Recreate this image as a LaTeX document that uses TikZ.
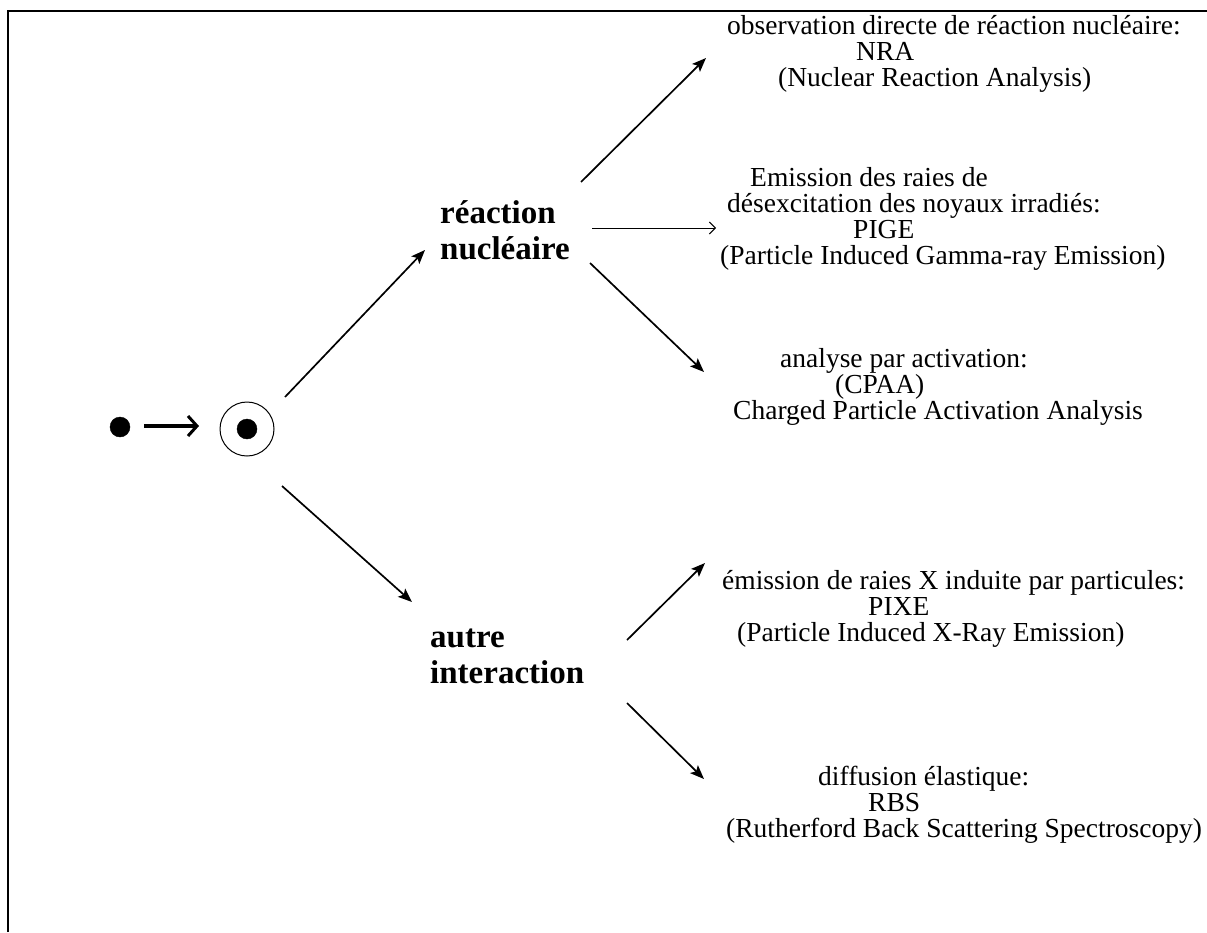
\documentclass[tikz,border=0pt]{standalone}
\usepackage{fontspec}
\setmainfont{Liberation Serif}
\usetikzlibrary{arrows.meta}
\usetikzlibrary{positioning}

\begin{document}
\begin{tikzpicture}
	[
	x=1pt, y=-1pt,
  > = {Stealth[length=14pt,width=11pt,inset=3pt]},
  dot/.style = {draw,fill,circle,inner sep=0pt,minimum size=20pt},
  branch/.style = {font=\fontsize{33}{36}\selectfont\bfseries, align=left, inner sep=0pt},
  txt/.style = {font=\fontsize{27.5}{26}\selectfont, anchor=base west, inner sep=0pt},
  arr/.style = {->, line width=1.7pt}
  ]
	\useasboundingbox (0,0) rectangle (1207,932);
	\draw[line width=1.2pt] (8,932) |- (1207,11);

	% projectile and target
	\node[dot] (proj) at (120,427) {};
	\node[draw,circle,line width=1pt,minimum size=54pt,inner sep=0pt] (targ) at (247,429) {};
	\node[dot] (noyau) at (targ) {};
	\coordinate (p1) at (144,426);
	\coordinate (p2) at (199,426);
	\draw[line width=3.2pt, -{Straight Barb[length=9pt,width=20pt,line width=3pt]}] (p1) to (p2);

	% first level
	\node[branch, anchor=west] (reac) at (440,230) {réaction\\nucléaire};
	\node[branch, anchor=west] (autre) at (430,656) {autre\\interaction};
	\coordinate (a1) at (285,397);
	\coordinate (a2) at (425,250);
	\coordinate (b1) at (282,486);
	\coordinate (b2) at (412,602);
	\draw[arr] (a1) to (a2);
	\draw[arr] (b1) to (b2);

	% arrows to the methods
	\coordinate (r1) at (581,182);
	\coordinate (r1e) at (706,58);
	\coordinate (r2) at (592,228);
	\coordinate (r2e) at (716,228);
	\coordinate (r3) at (590,263);
	\coordinate (r3e) at (704,372);
	\coordinate (t1) at (627,640);
	\coordinate (t1e) at (705,563);
	\coordinate (t2) at (627,703);
	\coordinate (t2e) at (704,779);
	\draw[arr] (r1) to (r1e);
	\draw[line width=1pt, -{Straight Barb[length=6pt,width=12pt,line width=1pt]}] (r2) to (r2e);
	\draw[arr] (r3) to (r3e);
	\draw[arr] (t1) to (t1e);
	\draw[arr] (t2) to (t2e);

	% methods
	\node[txt] (nra1) at (727,34) {observation directe de réaction nucléaire:};
	\node[txt] (nra2) at (856,60) {NRA};
	\node[txt] (nra3) at (778,86) {(Nuclear Reaction Analysis)};

	\node[txt] (pige1) at (750,186) {Emission des raies de};
	\node[txt] (pige2) at (727,212) {désexcitation des noyaux irradiés:};
	\node[txt] (pige3) at (853,238) {PIGE};
	\node[txt] (pige4) at (720,264) {(Particle Induced Gamma-ray Emission)};

	\node[txt] (cpaa1) at (780,367) {analyse par activation:};
	\node[txt] (cpaa2) at (835,393) {(CPAA)};
	\node[txt] (cpaa3) at (733,419) {Charged Particle Activation Analysis};

	\node[txt] (pixe1) at (722,589) {émission de raies X induite par particules:};
	\node[txt] (pixe2) at (868,615) {PIXE};
	\node[txt] (pixe3) at (737,641) {(Particle Induced X-Ray Emission)};

	\node[txt] (rbs1) at (818,785) {diffusion élastique:};
	\node[txt] (rbs2) at (868,811) {RBS};
	\node[txt] (rbs3) at (726,837) {(Rutherford Back Scattering Spectroscopy)};
	\end{tikzpicture}
\end{document}
